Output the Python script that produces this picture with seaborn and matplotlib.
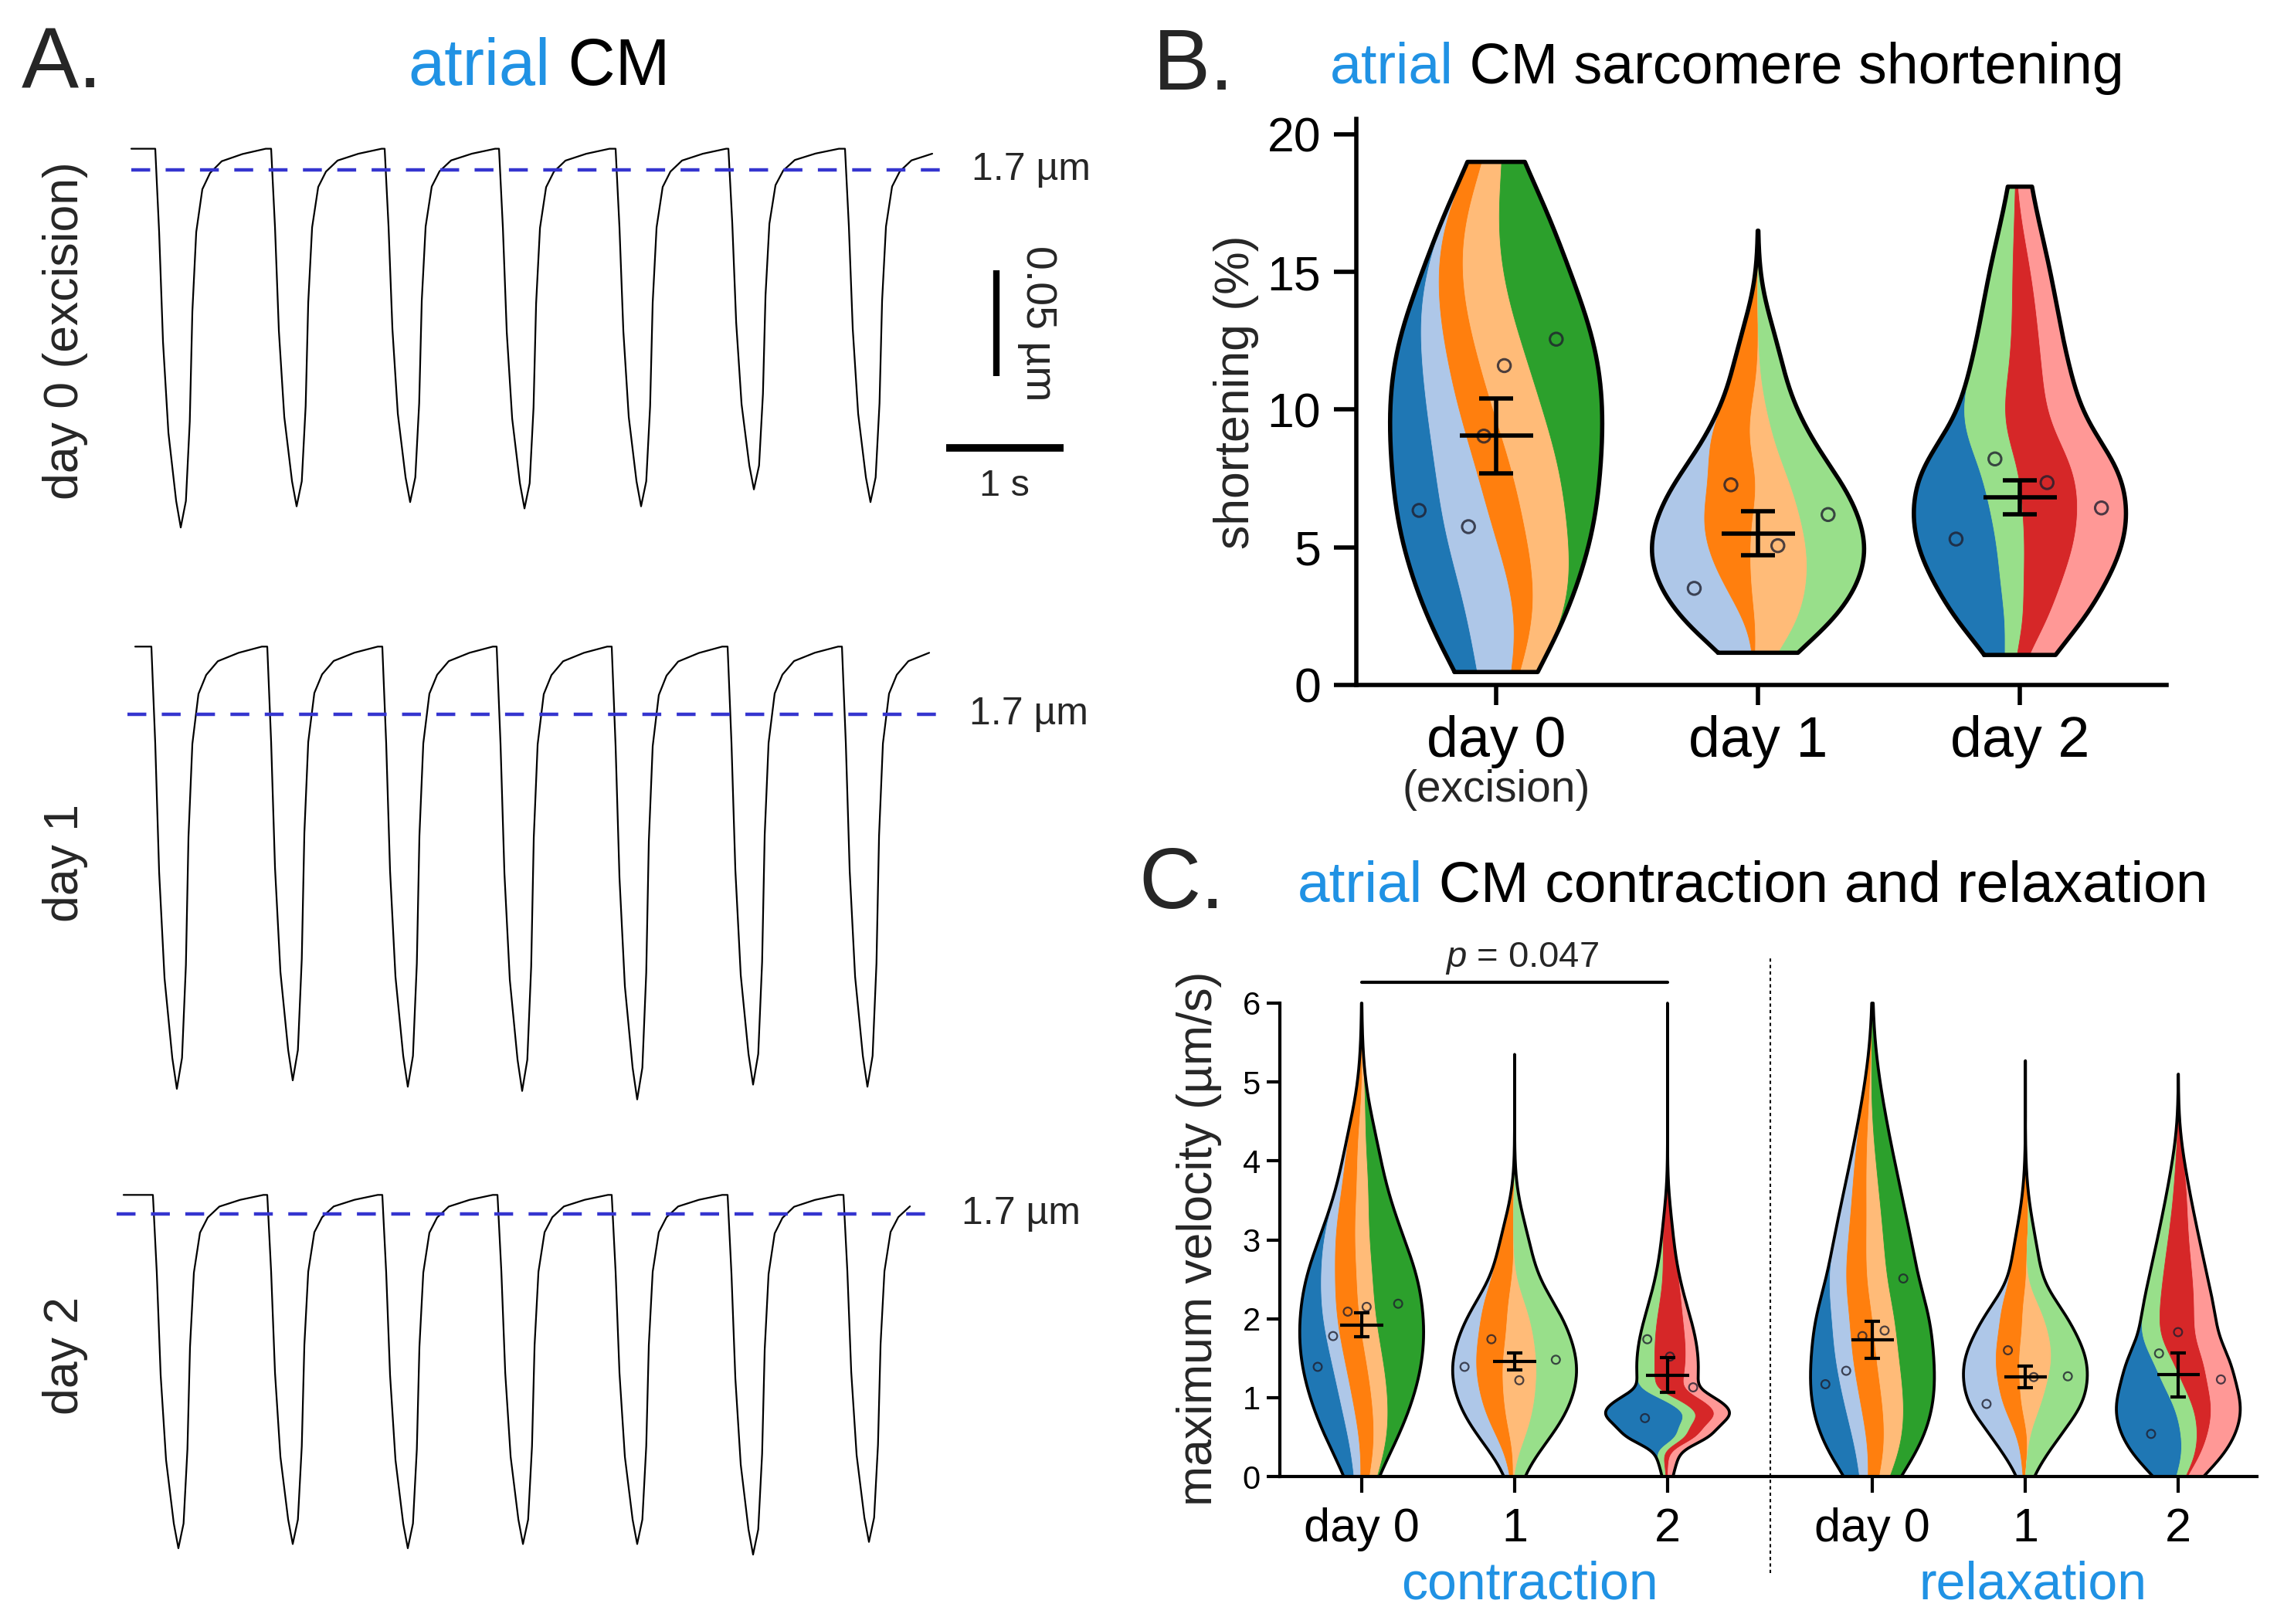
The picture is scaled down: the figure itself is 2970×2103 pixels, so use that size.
import numpy as np
import pandas as pd
import matplotlib
matplotlib.use("Agg")
import matplotlib.pyplot as plt
import seaborn as sns

sns.set_theme(style="ticks")
plt.rcParams["font.family"] = ["Liberation Sans", "DejaVu Sans"]
plt.rcParams["mathtext.fontset"] = "custom"
plt.rcParams["mathtext.rm"] = "Liberation Sans"
plt.rcParams["mathtext.it"] = "Liberation Sans:italic"
plt.rcParams["axes.edgecolor"] = "black"
plt.rcParams["xtick.color"] = "black"
plt.rcParams["ytick.color"] = "black"

W, H = 2970, 2103
BLUE_TXT = "#2092e4"
TAB = sns.color_palette("tab20", 8)  # one colour per animal

# ---------------- A. sarcomere length traces ----------------
# one twitch: time from trough (s), fraction of shortening
twitch_t = [-0.217, -0.184, -0.151, -0.105, -0.039, 0.0, 0.044, 0.077, 0.099,
            0.132, 0.184, 0.25, 0.349, 0.526, 0.724]
twitch_f = [0.0, 0.22, 0.51, 0.75, 0.93, 1.0, 0.93, 0.72, 0.43, 0.22, 0.107,
            0.064, 0.033, 0.014, 0.0]

trace_labels = ["day 0 (excision)", "day 1", "day 2"]
trace_start = [0.0, 0.033, -0.066]
trace_end = [6.855, 6.855, 6.796]
trace_rest = [1.710, 1.732, 1.709]          # diastolic SL (um)
trough_t_day0 = [0.421, 1.408, 2.375, 3.349, 4.342, 5.303, 6.296]
trough_sl_day0 = [1.531, 1.541, 1.543, 1.540, 1.541, 1.549, 1.543]
trough_t_day1 = [0.388, 1.375, 2.355, 3.329, 4.309, 5.296, 6.270]
trough_sl_day1 = [1.523, 1.527, 1.524, 1.522, 1.518, 1.525, 1.524]
trough_t_day2 = [0.401, 1.375, 2.355, 3.336, 4.309, 5.296, 6.283]
trough_sl_day2 = [1.542, 1.544, 1.542, 1.544, 1.544, 1.539, 1.545]
ref_line = 1.7
ref_line_t = [(0.0, 6.95), (-0.03, 6.92), (-0.125, 6.86)]

# ---------------- B. sarcomere shortening (%) ----------------
b_labels = ["day 0", "day 1", "day 2"]
b_animals = [[0, 1, 2, 3, 4], [1, 2, 3, 5], [0, 5, 6, 7]]
b_means_day0 = [6.34, 5.75, 9.04, 11.60, 12.56]
b_means_day1 = [3.51, 7.27, 5.06, 6.19]
b_means_day2 = [5.30, 8.21, 7.35, 6.43]
b_cells_day0 = [[1.5, 3.4, 5.3, 7.3, 9.2, 11.7],
                [0.47, 2.2, 3.8, 5.5, 7.3, 9.6, 13.0],
                [3.5, 6.2, 8.4, 10.8, 13.7, 17.8],
                [1.9, 4.3, 6.4, 8.3, 10.0, 11.6, 13.5, 15.5, 17.8],
                [6.0, 8.6, 10.1, 11.4, 12.6, 13.7, 14.8, 16.3, 17.7]]
b_cells_day1 = [[1.7, 2.6, 3.6, 4.55, 5.7, 7.25],
                [4.0, 5.55, 6.65, 7.85, 9.4, 11.9],
                [2.0, 3.3, 4.35, 5.4, 6.6, 9.0],
                [2.2, 3.65, 4.7, 5.65, 6.6, 7.8, 9.4, 12.0]]
b_cells_day2 = [[2.1, 3.4, 4.45, 5.3, 6.15, 7.1, 8.15],
                [2.6, 5.6, 7.9, 9.35, 10.9, 12.65, 15.4],
                [2.9, 4.8, 6.05, 7.15, 8.25, 9.65, 11.6, 14.6],
                [1.9, 3.25, 4.55, 5.85, 7.15, 8.6, 10.4, 13.9, 17.6]]
b_cut = [(0.47, 19.0), (1.17, 16.5), (1.09, 18.1)]

# ---------------- C. maximum velocity (um/s) ----------------
c_labels = ["day 0", "1", "2", "day 0", "1", "2"]
c_pos = [0, 1, 2, 3.34, 4.34, 5.34]
c_animals = [[0, 1, 2, 3, 4], [1, 2, 3, 5], [0, 5, 6, 7]] * 2
c_means_con0 = [1.39, 1.78, 2.09, 2.15, 2.19]
c_means_con1 = [1.39, 1.74, 1.22, 1.48]
c_means_con2 = [0.74, 1.74, 1.52, 1.13]
c_means_rel0 = [1.17, 1.34, 1.78, 1.85, 2.51]
c_means_rel1 = [0.92, 1.60, 1.26, 1.27]
c_means_rel2 = [0.54, 1.56, 1.83, 1.23]
c_cells_con0 = [[0.29, 0.7, 1.03, 1.33, 1.63, 1.98, 2.52],
                [0.37, 1.09, 1.86, 2.48, 3.14],
                [0.32, 0.84, 1.3, 1.73, 2.16, 2.59, 3.01, 3.51, 4.35],
                [0.39, 0.95, 1.49, 2.07, 2.65, 3.26, 4.1],
                [0.74, 1.18, 1.42, 1.67, 1.86, 2.04, 2.23, 2.43, 2.62, 2.87, 3.12, 3.49, 4.18]]
c_cells_con1 = [[0.46, 0.97, 1.36, 1.86],
                [0.67, 1.15, 1.55, 1.91, 2.3, 2.88],
                [0.68, 1.05, 1.36, 1.65, 2.09],
                [0.29, 0.75, 1.01, 1.25, 1.49, 1.75, 2.05, 2.44, 3.03]]
c_cells_con2 = [[0.47, 0.57, 0.67, 0.75, 0.81, 0.88, 0.98],
                [0.41, 0.96, 1.24, 1.52, 1.84, 2.39],
                [0.61, 0.95, 1.15, 1.34, 1.5, 1.65, 1.82, 2.02, 2.27, 2.64, 3.14],
                [0.29, 0.72, 1.0, 1.38, 1.89]]
c_cells_rel0 = [[0.17, 0.5, 0.8, 1.1, 1.46, 1.97],
                [0.3, 0.91, 1.52, 2.09, 2.64, 3.34],
                [0.25, 0.71, 1.13, 1.56, 1.98, 2.42, 2.9, 3.51, 4.42],
                [0.27, 0.76, 1.19, 1.63, 2.09, 2.56, 3.06, 3.9],
                [0.32, 0.74, 1.06, 1.33, 1.6, 1.86, 2.14, 2.44, 2.78, 3.15, 3.56, 4.07, 4.75]]
c_cells_rel1 = [[0.35, 0.67, 0.9, 1.13, 1.36, 1.61, 1.95],
                [0.7, 1.12, 1.44, 1.78, 2.1, 2.51, 3.17],
                [0.92, 1.26, 1.5, 1.73, 2.08],
                [0.34, 0.62, 0.81, 0.97, 1.15, 1.33, 1.57, 1.86, 2.21, 2.79]]
c_cells_rel2 = [[0.1, 0.3, 0.45, 0.59, 0.73, 0.87, 1.0, 1.2, 1.46],
                [0.24, 0.7, 1.14, 1.55, 1.96, 2.47, 3.33],
                [0.76, 1.2, 1.51, 1.74, 1.96, 2.19, 2.43, 2.72, 3.14, 3.76],
                [0.14, 0.42, 0.66, 0.95, 1.25, 1.55, 1.89, 2.3, 2.99]]
c_cut = [(0, 6.0), (0, 5.35), (0, 6.0), (0, 6.0), (0, 5.27), (0, 5.1)]
p_text = "$p$ = 0.047"


def fx(px):
    return px / W


def fy(py):
    return 1 - py / H


def build_trace(start, end, rest, trough_t, trough_sl):
    t, sl = [start], [rest]
    for tk, sk in zip(trough_t, trough_sl):
        for dt, f in zip(twitch_t, twitch_f):
            if tk + dt <= end:
                t.append(tk + dt)
                sl.append(rest - f * (rest - sk))
    if t[-1] < end and sl[-1] == rest:
        t.append(end)
        sl.append(rest)
    return pd.DataFrame({"time": t, "sl": sl})


def draw_violin(ax, pos, cells, animals, cut, means, lw, half_w=0.405, bw_scale=0.75):
    # stacked KDE: each animal gets a stripe, outline = pooled density
    grid = np.linspace(cut[0], cut[1], 800)
    dens = []
    for vals in cells:
        v = np.asarray(vals, float)
        bw = bw_scale * 1.06 * v.std(ddof=1) * len(v) ** -0.2
        z = (grid[:, None] - v[None, :]) / bw
        dens.append(np.exp(-0.5 * z ** 2).sum(axis=1) / (bw * np.sqrt(2 * np.pi)))
    dens = np.array(dens)
    total = dens.sum(axis=0)
    k = 2 * half_w / total.max()
    edges = np.vstack([np.zeros_like(grid), np.cumsum(dens * k, axis=0)]) + (pos - total * k / 2)
    for i, a in enumerate(animals):
        ax.fill_betweenx(grid, edges[i], edges[i + 1], color=TAB[a], lw=0.6, zorder=2)
    ax.plot(np.r_[edges[0], edges[-1][::-1], edges[0][0]], np.r_[grid, grid[::-1], grid[0]],
            color="black", lw=lw, zorder=3, clip_on=False, solid_joinstyle="round")
    mids = (edges[:-1] + edges[1:]) / 2
    return [np.interp(m, grid, mids[i]) for i, m in enumerate(means)]


def draw_summary(ax, pos, xs, means, dot_s, dot_lw, bar_lw, cap):
    sns.scatterplot(x=xs, y=means, ax=ax, s=dot_s, marker="o", facecolor="none",
                    edgecolor=(0.12, 0.12, 0.18, 0.8), linewidth=dot_lw, zorder=5, legend=False)
    m = np.mean(means)
    sem = np.std(means, ddof=1) / np.sqrt(len(means))
    ax.errorbar(pos, m, yerr=sem, fmt="none", ecolor="black", elinewidth=bar_lw,
                capsize=cap, capthick=bar_lw, zorder=6)
    ax.hlines(m, pos - 0.14, pos + 0.14, colors="black", lw=bar_lw, zorder=6)


def two_colour_title(ax, x_px, base_px, rest, size):
    t1 = ax.figure.text(fx(x_px), fy(base_px), "atrial", color=BLUE_TXT, fontsize=size,
                        ha="left", va="baseline")
    ax.annotate(rest, xy=(1, 0), xycoords=t1, ha="left", va="bottom", fontsize=size,
                color="black", annotation_clip=False)


fig = plt.figure(figsize=(W / 100, H / 100), dpi=100)

# ---------------- panel A ----------------
PX_PER_S, PX_PER_UM, T0_PX = 152, 2740, 170
a_rows = [(140, 720, 220), (790, 1450, 925), (1490, 2070, 1572)]  # top, bottom, 1.7 um row (px)
trough_t = [trough_t_day0, trough_t_day1, trough_t_day2]
trough_sl = [trough_sl_day0, trough_sl_day1, trough_sl_day2]
label_x = [7.16, 7.14, 7.07]
row_label_y = [428, 1118, 1755]
a_axes = []
for i in range(3):
    top, bot, ref = a_rows[i]
    ax = fig.add_axes([fx(150), fy(bot), fx(1450) - fx(150), (bot - top) / H])
    ax.set_xlim((150 - T0_PX) / PX_PER_S, (1450 - T0_PX) / PX_PER_S)
    ax.set_ylim(ref_line - (bot - ref) / PX_PER_UM, ref_line + (ref - top) / PX_PER_UM)
    ax.axis("off")
    df = build_trace(trace_start[i], trace_end[i], trace_rest[i], trough_t[i], trough_sl[i])
    sns.lineplot(data=df, x="time", y="sl", ax=ax, color="black", linewidth=1.6,
                 estimator=None, sort=False)
    ax.hlines(ref_line, *ref_line_t[i], colors="#3535cf", linestyles=(0, (5.5, 4.5)), lw=3.2)
    ax.text(label_x[i], ref_line, "1.7 µm", fontsize=36, va="center", ha="left")
    fig.text(fx(85), fy(row_label_y[i]), trace_labels[i], rotation=90, fontsize=45,
             ha="center", va="center")
    a_axes.append(ax)

ax = a_axes[0]
ax.plot([7.37, 7.37], [1.6026, 1.6526], color="black", lw=6, solid_capstyle="butt")
ax.text(7.72, 1.6276, "0.05 µm", rotation=270, fontsize=40, ha="center", va="center")
ax.plot([6.94, 7.94], [1.5686, 1.5686], color="black", lw=7, solid_capstyle="butt")
ax.text(7.44, 1.5507, "1 s", fontsize=35, ha="center", va="center")

fig.text(fx(28), fy(114), "A.", fontsize=80, ha="left", va="baseline")
two_colour_title(a_axes[0], 528, 110, " CM", 61)

# ---------------- panel B ----------------
axB = fig.add_axes([fx(1756), fy(887), fx(2805) - fx(1756), (887 - 154) / H])
b_means = [b_means_day0, b_means_day1, b_means_day2]
b_cells = [b_cells_day0, b_cells_day1, b_cells_day2]
for i in range(3):
    xs = draw_violin(axB, i, b_cells[i], b_animals[i], b_cut[i], b_means[i], lw=4.0)
    draw_summary(axB, i, xs, b_means[i], dot_s=140, dot_lw=2.2, bar_lw=4.0, cap=16)
axB.set_xlim(-0.534, 2.560)
axB.set_ylim(0, 20.56)
axB.set_yticks([0, 5, 10, 15, 20])
axB.set_xticks([0, 1, 2])
axB.set_xticklabels(b_labels)
axB.tick_params(axis="y", length=21, width=4, labelsize=45, pad=12)
axB.tick_params(axis="x", length=19, width=4, labelsize=53, pad=9)
axB.set_xlabel("")
axB.set_ylabel("")
for s in ["left", "bottom"]:
    axB.spines[s].set_linewidth(4)
sns.despine(ax=axB)
axB.text(0, -0.186, "(excision)", transform=axB.get_xaxis_transform(), fontsize=41,
         ha="center", va="center")
fig.text(fx(1600), fy(508), "shortening (%)", rotation=90, fontsize=45, ha="center", va="center")
fig.text(fx(1493), fy(116), "B.", fontsize=80, ha="left", va="baseline")
two_colour_title(axB, 1722, 108, " CM sarcomere shortening", 53)

# ---------------- panel C ----------------
axC = fig.add_axes([fx(1657), fy(1912), fx(2922) - fx(1657), (1912 - 1299) / H])
c_means = [c_means_con0, c_means_con1, c_means_con2, c_means_rel0, c_means_rel1, c_means_rel2]
c_cells = [c_cells_con0, c_cells_con1, c_cells_con2, c_cells_rel0, c_cells_rel1, c_cells_rel2]
for i in range(6):
    xs = draw_violin(axC, c_pos[i], c_cells[i], c_animals[i], c_cut[i], c_means[i], lw=2.7)
    draw_summary(axC, c_pos[i], xs, c_means[i], dot_s=60, dot_lw=1.6, bar_lw=3.0, cap=7.5)
axC.set_xlim(-0.535, 5.854)
axC.set_ylim(0, 6.0)
axC.set_yticks(range(7))
axC.set_xticks(c_pos)
axC.set_xticklabels(c_labels)
axC.tick_params(axis="y", length=12, width=3, labelsize=30, pad=6)
axC.tick_params(axis="x", length=15, width=3, labelsize=44, pad=14)
for s in ["left", "bottom"]:
    axC.spines[s].set_linewidth(3)
sns.despine(ax=axC)
axC.plot([2.672, 2.672], [-1.22, 6.60], color="black", lw=1.5, ls=(0, (2, 2)), clip_on=False)
axC.plot([0, 2], [6.26, 6.26], color="black", lw=3, clip_on=False)
axC.text(1.05, 6.57, p_text, fontsize=34, ha="center", va="center")
axC.text(1.10, -0.23, "contraction", transform=axC.get_xaxis_transform(), fontsize=49,
         color=BLUE_TXT, ha="center", va="center")
axC.text(4.39, -0.23, "relaxation", transform=axC.get_xaxis_transform(), fontsize=49,
         color=BLUE_TXT, ha="center", va="center")
fig.text(fx(1552), fy(1604), "maximum velocity (µm/s)", rotation=90, fontsize=45,
         ha="center", va="center")
fig.text(fx(1474), fy(1176), "C.", fontsize=80, ha="left", va="baseline")
two_colour_title(axC, 1680, 1168, " CM contraction and relaxation", 54)

fig.savefig("out.png", dpi=100)
